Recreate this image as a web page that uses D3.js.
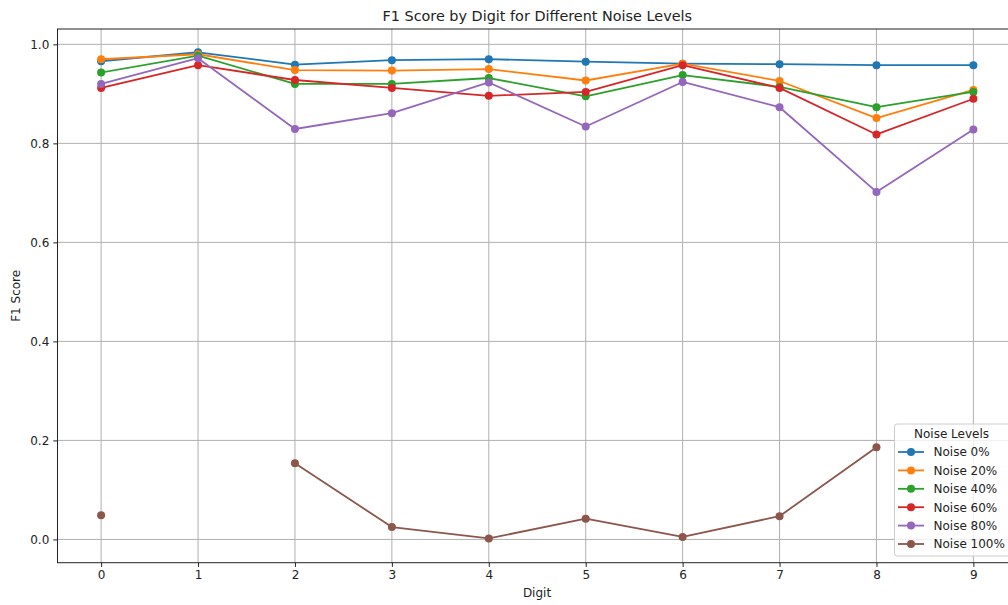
<!DOCTYPE html>
<html>
<head>
<meta charset="utf-8">
<script src="https://cdn.jsdelivr.net/npm/d3@7.9.0/dist/d3.min.js"></script>
<style>
  html, body { margin: 0; padding: 0; background: #fff; }
  svg { display: block; font-family: "DejaVu Sans", sans-serif; }
</style>
</head>
<body>
<svg id="chart" width="1008" height="605"></svg>
<script>
// --- data ---
const digits = [0, 1, 2, 3, 4, 5, 6, 7, 8, 9];
const seriesNames = ['Noise 0%', 'Noise 20%', 'Noise 40%', 'Noise 60%', 'Noise 80%', 'Noise 100%'];
const noise0   = [0.966, 0.984, 0.959, 0.968, 0.970, 0.965, 0.961, 0.960, 0.958, 0.958];
const noise20  = [0.970, 0.980, 0.948, 0.947, 0.950, 0.927, 0.961, 0.926, 0.851, 0.908];
const noise40  = [0.943, 0.977, 0.920, 0.920, 0.932, 0.895, 0.938, 0.914, 0.873, 0.904];
const noise60  = [0.912, 0.958, 0.928, 0.912, 0.896, 0.904, 0.958, 0.912, 0.818, 0.890];
const noise80  = [0.920, 0.972, 0.829, 0.861, 0.923, 0.834, 0.924, 0.873, 0.702, 0.828];
const noise100 = [0.049, null, 0.154, 0.025, 0.002, 0.042, 0.005, 0.047, 0.186, null];
const yTicks = [0.0, 0.2, 0.4, 0.6, 0.8, 1.0];
const colors = ['#1f77b4', '#ff7f0e', '#2ca02c', '#d62728', '#9467bd', '#8c564b'];

const allSeries = [noise0, noise20, noise40, noise60, noise80, noise100];

// --- layout ---
const area = { left: 57.5, right: 1017, top: 29, bottom: 562.7 };
const svg = d3.select('#chart');

const x = d3.scaleLinear().domain([-0.45, 9.45]).range([area.left, area.right]);
const y = d3.scaleLinear().domain([-0.047, 1.031]).range([area.bottom, area.top]);

// gridlines
const grid = svg.append('g').attr('class', 'grid');
grid.selectAll('line.v')
  .data(digits)
  .join('line')
  .attr('x1', d => x(d)).attr('x2', d => x(d))
  .attr('y1', area.top).attr('y2', area.bottom)
  .attr('stroke', '#b0b0b0').attr('stroke-width', 1);
grid.selectAll('line.h')
  .data(yTicks)
  .join('line')
  .attr('x1', area.left).attr('x2', area.right)
  .attr('y1', d => y(d)).attr('y2', d => y(d))
  .attr('stroke', '#b0b0b0').attr('stroke-width', 1);

// axes
const xAxis = d3.axisBottom(x).tickValues(digits).tickSize(4.2).tickPadding(4).tickFormat(d3.format('d'));
const yAxis = d3.axisLeft(y).tickValues(yTicks).tickSize(4.2).tickPadding(4).tickFormat(d3.format('.1f'));

const gx = svg.append('g').attr('transform', `translate(0,${area.bottom})`).call(xAxis);
const gy = svg.append('g').attr('transform', `translate(${area.left},0)`).call(yAxis);
[gx, gy].forEach(g => {
  g.select('.domain').remove();
  g.selectAll('text').attr('font-size', 12).attr('fill', '#222').attr('font-family', 'DejaVu Sans');
  g.selectAll('line').attr('stroke', '#222').attr('stroke-width', 1);
});

// spines
svg.append('rect')
  .attr('x', area.left).attr('y', area.top)
  .attr('width', area.right - area.left).attr('height', area.bottom - area.top)
  .attr('fill', 'none').attr('stroke', '#222').attr('stroke-width', 1);

// lines and markers
const line = d3.line()
  .defined(d => d.v != null)
  .x(d => x(d.digit))
  .y(d => y(d.v));

allSeries.forEach((vals, i) => {
  const pts = digits.map((digit, j) => ({ digit, v: vals[j] }));
  const g = svg.append('g');
  g.append('path')
    .datum(pts)
    .attr('d', line)
    .attr('fill', 'none')
    .attr('stroke', colors[i])
    .attr('stroke-width', 1.8)
    .attr('stroke-linejoin', 'round')
    .attr('stroke-linecap', 'square');
  g.selectAll('circle')
    .data(pts.filter(d => d.v != null))
    .join('circle')
    .attr('cx', d => x(d.digit))
    .attr('cy', d => y(d.v))
    .attr('r', 4)
    .attr('fill', colors[i]);
});

// title and axis labels
svg.append('text')
  .attr('x', (area.left + area.right) / 2).attr('y', 21)
  .attr('text-anchor', 'middle').attr('font-size', 14.4).attr('fill', '#222')
  .text('F1 Score by Digit for Different Noise Levels');

svg.append('text')
  .attr('x', 537).attr('y', 597)
  .attr('text-anchor', 'middle').attr('font-size', 12).attr('fill', '#222')
  .text('Digit');

svg.append('text')
  .attr('transform', `translate(20,${(area.top + area.bottom) / 2}) rotate(-90)`)
  .attr('text-anchor', 'middle').attr('font-size', 12).attr('fill', '#222')
  .text('F1 Score');

// legend
const legend = svg.append('g').attr('transform', 'translate(894.5,424)');
legend.append('rect')
  .attr('width', 117).attr('height', 132).attr('rx', 2.5)
  .attr('fill', 'rgba(255,255,255,0.8)')
  .attr('stroke', '#cccccc').attr('stroke-width', 1);
legend.append('text')
  .attr('x', 57).attr('y', 14)
  .attr('text-anchor', 'middle').attr('font-size', 12).attr('fill', '#222')
  .text('Noise Levels');
const items = legend.selectAll('g.item')
  .data(seriesNames)
  .join('g')
  .attr('transform', (d, i) => `translate(0,${28 + i * 18.4})`);
items.append('line')
  .attr('x1', 3.5).attr('x2', 29.5)
  .attr('stroke', (d, i) => colors[i]).attr('stroke-width', 1.8);
items.append('circle')
  .attr('cx', 16.5).attr('r', 4)
  .attr('fill', (d, i) => colors[i]);
items.append('text')
  .attr('x', 39).attr('y', 4.3)
  .attr('font-size', 12).attr('fill', '#222')
  .text(d => d);
</script>
</body>
</html>
